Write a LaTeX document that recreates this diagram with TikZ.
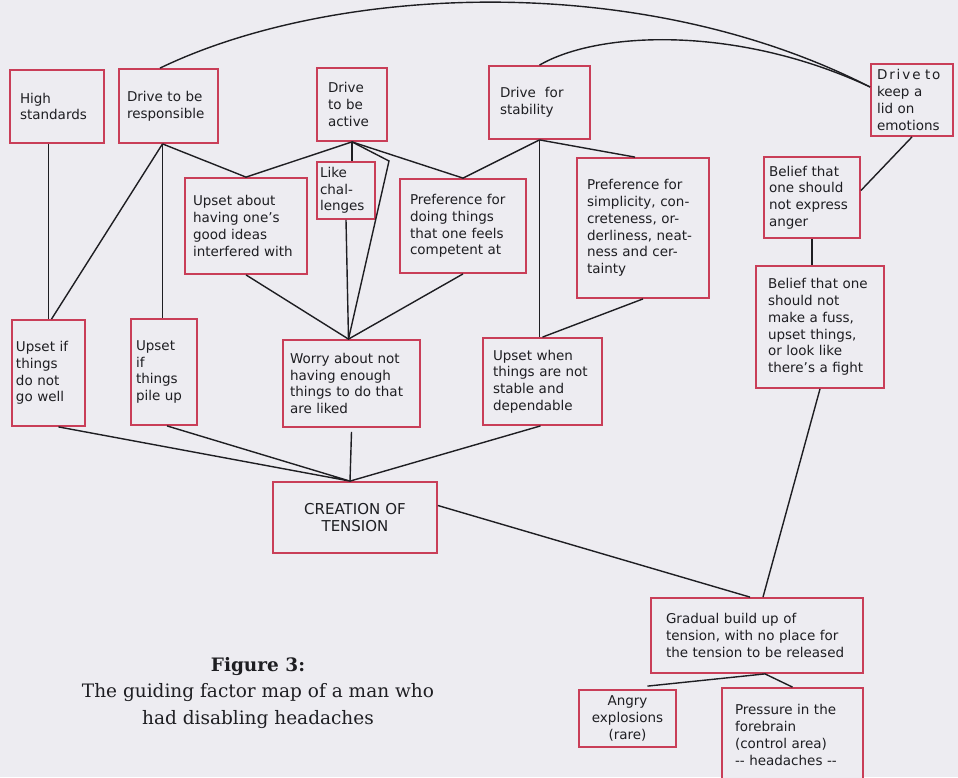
\documentclass[tikz,border=0pt]{standalone}
\usepackage{fontspec}
\setmainfont{DejaVu Sans}
\newfontfamily\capfont{DejaVu Serif}
\usepackage{xcolor}

\definecolor{paper}{RGB}{237,236,241}
\definecolor{framered}{RGB}{201,62,88}
\definecolor{ink}{RGB}{30,30,34}

\newcommand\boxfont{\fontsize{13.5}{16.7}\selectfont}

\begin{document}
\begin{tikzpicture}[x=1pt,y=-1pt,
    factor/.style={draw=framered, line width=1.8pt, fill=paper,
        text=ink, align=left, inner sep=0pt, font=\boxfont},
    wh/.code n args={3}{%
        \pgfmathsetlengthmacro\boxtw{#1pt-2*#3pt}%
        \edef\boxopts{\noexpand\tikzset{minimum width=#1pt,
            minimum height=#2pt, text width=\boxtw}}\boxopts},
    link/.style={draw=ink, line width=1.4pt}]

\useasboundingbox (0,0) rectangle (958,777);
\fill[paper] (0,0) rectangle (958,777);

% top row
\node[factor, wh={94}{73}{10}] (hs) at (57,106.5) {High\\standards};
\node[factor, wh={99}{74}{8}] (resp) at (168.5,106) {Drive to be\\responsible};
\node[factor, wh={70}{73}{11}] (act) at (352,104.5) {Drive\\to be\\active};
\node[factor, wh={101}{73}{11}] (stab) at (539.5,102.5) {Drive\ \ for\\stability};
\node[factor, wh={82}{72}{6}] (lid) at (912,100)
    {{\addfontfeature{LetterSpace=14}Drive to}\\keep a\\lid on\\emotions};

% second row
\node[factor, wh={58}{57}{3}] (chal) at (346,190.5) {Like\\chal-\\lenges};
\node[factor, wh={122}{96}{8}] (ideas) at (246,226)
    {Upset about\\having one’s\\good ideas\\interfered with};
\node[factor, wh={126}{94}{10}] (comp) at (463,226)
    {Preference for\\doing things\\that one feels\\competent at};
\node[factor, wh={132}{140}{10}] (simp) at (643,228)
    {Preference for\\simplicity, con-\\creteness, or-\\derliness, neat-\\ness and cer-\\tainty};
\node[factor, wh={96}{81}{5}] (anger) at (812,197.5)
    {Belief that\\one should\\not express\\anger};
\node[factor, wh={128}{122}{12}] (fuss) at (820,327)
    {Belief that one\\should not\\make a fuss,\\upset things,\\or look like\\there’s a fight};

% third row
\node[factor, wh={73}{106}{4}] (well) at (48.5,373) {Upset if\\things\\do not\\go well};
\node[factor, wh={66}{106}{5}] (pile) at (164,372) {Upset\\if\\things\\pile up};
\node[factor, wh={137}{87}{7}] (worry) at (351.5,383.5)
    {Worry about not\\having enough\\things to do that\\are liked};
\node[factor, wh={119}{87}{10}] (unst) at (542.5,381.5)
    {Upset when\\things are not\\stable and\\dependable};

% bottom
\node[factor, wh={164}{71}{8}, align=center, font=\fontsize{15}{17}\selectfont]
    (tens) at (355,517.5) {CREATION OF\\TENSION};
\node[factor, wh={212}{75}{15}] (build) at (757,635.5)
    {Gradual build up of\\tension, with no place for\\the tension to be released};
\node[factor, wh={97}{57}{4}, align=center] (angry) at (627.5,718.5) {Angry\\explosions\\(rare)};
\node[factor, wh={141}{94}{13}] (press) at (792.5,735)
    {Pressure in the\\forebrain\\(control area)\\-{}- headaches -{}-};

\node[font=\capfont\fontsize{18.5}{26.5}\selectfont, text=ink, align=center,
    anchor=north, inner sep=0pt] (cap) at (258,657)
    {{\bfseries Figure 3:}\\The guiding factor map of a man who\\had disabling headaches};

% Links
\coordinate (rb) at ([xshift=-6pt]resp.south);
\coordinate (bend) at (389,161);
\coordinate (wtop) at ([xshift=-3pt]worry.north);
\coordinate (ttop) at ([xshift=-5pt]tens.north);
\coordinate (bbot) at ([xshift=8pt]build.south);

\draw[link] ([xshift=-8.5pt]resp.north) .. controls (330,-14) and (637,-32) .. ([yshift=13pt]lid.west);
\draw[link] (stab.north) .. controls (600,30) and (740,26) .. ([yshift=13pt]lid.west);

\draw[link] (hs.south -| well.north) -- (well.north);
\draw[link] (rb) -- ([xshift=3pt]well.north);
\draw[link] (rb) -- (rb |- pile.north);
\draw[link] (rb) -- (ideas.north) -- (act.south);
\draw[link] (act.south) -- (act.south |- chal.north);
\draw[link] (act.south) -- (comp.north) -- (stab.south);
\draw[link] (act.south) -- (bend) -- (wtop);
\draw[link] (stab.south) -- (stab.south |- unst.north);
\draw[link] (stab.south) -- ([xshift=-8pt]simp.north);
\draw[link] (simp.south) -- (unst.north);
\draw[link] (ideas.south) -- (wtop) -- (comp.south);
\draw[link] (chal.south) -- (wtop);

\draw[link] ([xshift=10pt]well.south) -- (ttop) -- ([xshift=3pt]pile.south);
\draw[link] ([yshift=-4pt]worry.south) -- (ttop);
\draw[link] ([xshift=-2pt]unst.south) -- (ttop);
\draw[link] ([yshift=12pt]tens.east) -- ([xshift=-7pt]build.north);
\draw[link] (fuss.south) -- ([xshift=6pt]build.north);
\draw[link] (anger.south) -- (anger.south |- fuss.north);
\draw[link] (lid.south) -- ([yshift=7pt]anger.east);
\draw[link] ([xshift=20pt,yshift=3pt]angry.north) -- (bbot) -- (press.north);
\end{tikzpicture}
\end{document}
